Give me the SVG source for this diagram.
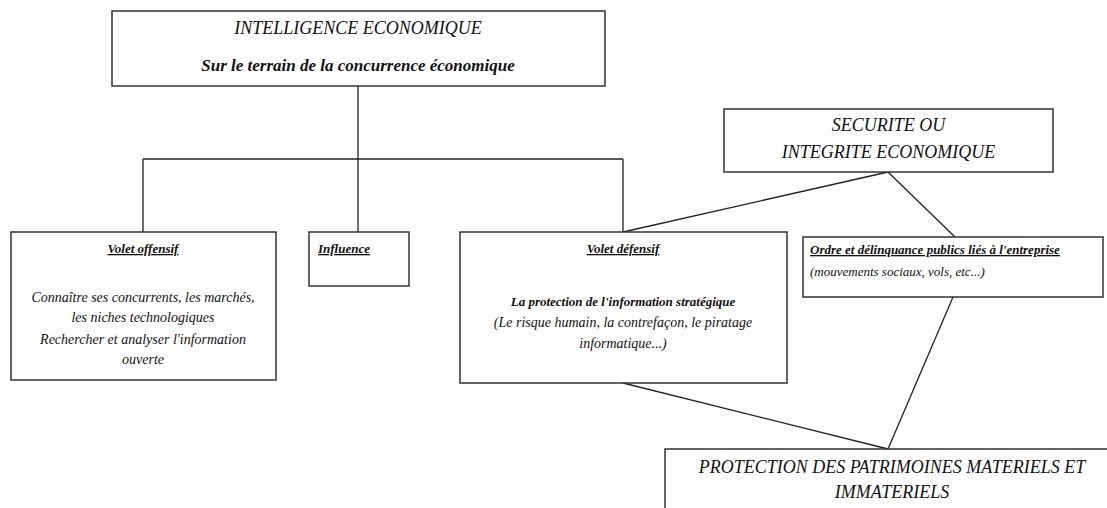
<svg xmlns="http://www.w3.org/2000/svg" width="1107" height="508" viewBox="0 0 1107 508">
<style>
.box{fill:#fff;stroke:#333;stroke-width:1.5}
.ln{fill:none;stroke:#222;stroke-width:1.3}
.t{font-family:"Liberation Serif",serif;font-style:italic;fill:#111}
.b{font-weight:bold}
.u{text-decoration:underline}
.c{text-anchor:middle}
</style>
<rect width="1107" height="508" fill="#fff"/>
<g id="connectors">
<path class="ln" d="M358 86V159M143 159H623M143 159V232M358 159V232M623 159V232"/>
<path class="ln" d="M623 232L888 172M888 172L955 237M953 297L888 449M623 383L888 449"/>
</g>
<g id="intelligence">
<rect class="box" x="112" y="11" width="493" height="75"/>
<text class="t c" x="358" y="34" font-size="18">INTELLIGENCE ECONOMIQUE</text>
<text class="t b c" x="358" y="71" font-size="17">Sur le terrain de la concurrence économique</text>
</g>
<g id="securite">
<rect class="box" x="724" y="109" width="329" height="63"/>
<text class="t c" x="888.5" y="131" font-size="18">SECURITE OU</text>
<text class="t c" x="888.5" y="158" font-size="18">INTEGRITE ECONOMIQUE</text>
</g>
<g id="offensif">
<rect class="box" x="11" y="232" width="265" height="148"/>
<text class="t b u c" x="143" y="253" font-size="13">Volet offensif</text>
<text class="t c" x="143" y="302" font-size="14">Connaître ses  concurrents, les marchés,</text>
<text class="t c" x="143" y="322" font-size="14">les niches technologiques</text>
<text class="t c" x="143" y="344" font-size="14">Rechercher et analyser l'information</text>
<text class="t c" x="143" y="364" font-size="14">ouverte</text>
</g>
<g id="influence">
<rect class="box" x="309" y="232" width="100" height="54"/>
<text class="t b u" x="318" y="253" font-size="13">Influence</text>
</g>
<g id="defensif">
<rect class="box" x="460" y="232" width="327" height="151"/>
<text class="t b u c" x="623" y="253" font-size="13">Volet défensif</text>
<text class="t b c" x="623" y="306" font-size="13">La protection de l'information stratégique</text>
<text class="t c" x="623" y="327" font-size="14">(Le risque humain, la contrefaçon, le piratage</text>
<text class="t c" x="623" y="348" font-size="14">informatique...)</text>
</g>
<g id="ordre">
<rect class="box" x="803" y="237" width="300" height="60"/>
<text class="t b u" x="810" y="254" font-size="13">Ordre et délinquance publics liés à l'entreprise</text>
<text class="t" x="810" y="276" font-size="13">(mouvements sociaux, vols, etc...)</text>
</g>
<g id="protection">
<rect class="box" x="665" y="449" width="460" height="80"/>
<text class="t c" x="892" y="473" font-size="18">PROTECTION DES PATRIMOINES MATERIELS ET</text>
<text class="t c" x="892" y="498" font-size="18">IMMATERIELS</text>
</g>
</svg>
